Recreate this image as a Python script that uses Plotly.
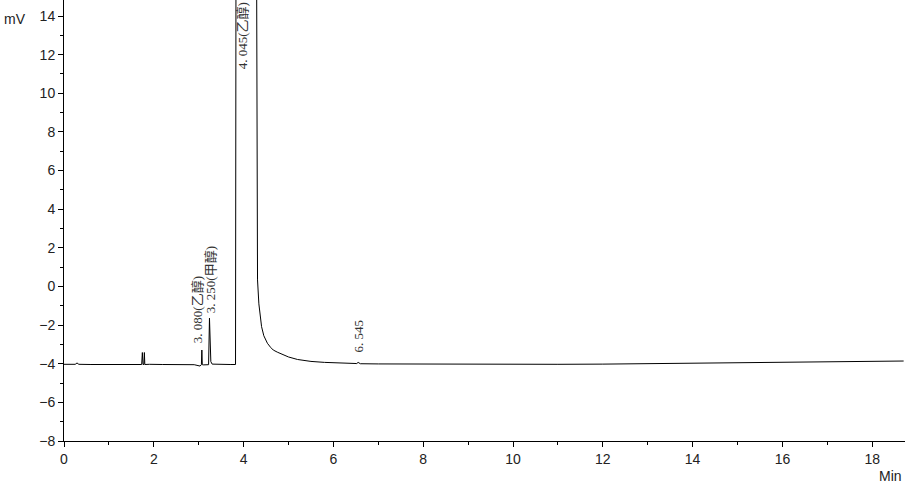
import plotly.graph_objects as go

# Retention time (min) and detector signal (mV)
time_min = [0.00, 0.25, 0.29, 0.33, 0.60, 1.00, 1.50, 1.73, 1.745, 1.76, 1.78, 1.79, 1.80,
            1.90, 2.20, 2.60, 2.90, 3.03, 3.06, 3.07, 3.08, 3.10, 3.20, 3.22, 3.24, 3.255,
            3.27, 3.30, 3.45, 3.70, 3.82, 3.83, 4.29, 4.31, 4.34, 4.37, 4.40, 4.45, 4.53,
            4.60, 4.66, 4.75, 4.81, 4.90, 5.00, 5.20, 5.50, 5.80, 6.10, 6.45, 6.52, 6.55,
            6.60, 7.00, 8.00, 9.00, 10.00, 11.00, 12.00, 13.00, 14.00, 15.00, 16.00, 16.10,
            16.20, 17.00, 18.00, 18.70]
signal_mv = [-4.03, -4.03, -3.96, -4.03, -4.04, -4.03, -4.05, -4.04, -3.42, -4.04, -4.04, -3.42, -4.04,
             -4.03, -4.04, -4.03, -4.05, -4.12, -4.05, -3.29, -4.05, -4.06, -4.05, -4.05, -1.64, -3.63,
             -3.89, -4.02, -4.04, -4.04, -4.04, 16.00, 16.00, 0.34, -0.90, -1.60, -2.08, -2.55, -2.94,
             -3.15, -3.29, -3.40, -3.46, -3.56, -3.65, -3.78, -3.88, -3.93, -3.97, -4.00, -3.99, -3.93,
             -4.00, -4.01, -4.02, -4.03, -4.03, -4.03, -4.02, -4.00, -3.98, -3.96, -3.94, -3.91,
             -3.92, -3.90, -3.88, -3.86]

# Peak labels
peak_labels = ["3. 080(乙醇)", "3. 250(甲醇)", "4. 045(乙醇)", "6. 545"]
label_x = [2.99, 3.27, 3.98, 6.55]
label_y = [-3.05, -1.47, 14.83, -3.54]
label_anchor = ["bottom", "bottom", "top", "bottom"]

fig = go.Figure()
fig.add_trace(go.Scatter(x=time_min, y=signal_mv, mode="lines",
                         line=dict(color="black", width=1), hoverinfo="skip",
                         showlegend=False))

for t, lx, ly, ya in zip(peak_labels, label_x, label_y, label_anchor):
    fig.add_annotation(x=lx, y=ly, xref="x", yref="y", text=t, showarrow=False,
                       textangle=-90, xanchor="center", yanchor=ya,
                       font=dict(family="Liberation Serif, Noto Sans CJK SC", size=13, color="#333"))

fig.add_annotation(x=-62/841, y=0.957, xref="paper", yref="paper", text="mV",
                   showarrow=False, xanchor="left", yanchor="middle",
                   font=dict(family="Liberation Sans, Arial", size=14, color="#222"))
fig.add_annotation(x=0.999, y=-0.079, xref="paper", yref="paper", text="Min",
                   showarrow=False, xanchor="right", yanchor="middle",
                   font=dict(family="Liberation Sans, Arial", size=14, color="#222"))

axis_font = dict(family="Liberation Sans, Arial", size=14, color="#222")
fig.update_xaxes(range=[0, 18.73], dtick=2, tick0=0, showgrid=False, zeroline=False,
                 showline=True, linecolor="black", linewidth=1,
                 ticks="outside", ticklen=5, tickcolor="black", tickwidth=1,
                 minor=dict(dtick=1, ticks="outside", ticklen=3, tickcolor="black", showgrid=False),
                 tickfont=axis_font)
fig.update_yaxes(range=[-8, 14.83], dtick=2, tick0=0, showgrid=False, zeroline=False,
                 showline=True, linecolor="black", linewidth=1,
                 ticks="outside", ticklen=5, tickcolor="black", tickwidth=1,
                 minor=dict(dtick=1, ticks="outside", ticklen=3, tickcolor="black", showgrid=False),
                 tickfont=axis_font)

fig.update_layout(width=905, height=487, margin=dict(l=64, r=0, t=0, b=46),
                  plot_bgcolor="white", paper_bgcolor="white")

fig.write_html("out.html", config={"displayModeBar": False},
               post_script="document.body.style.margin='0';")
